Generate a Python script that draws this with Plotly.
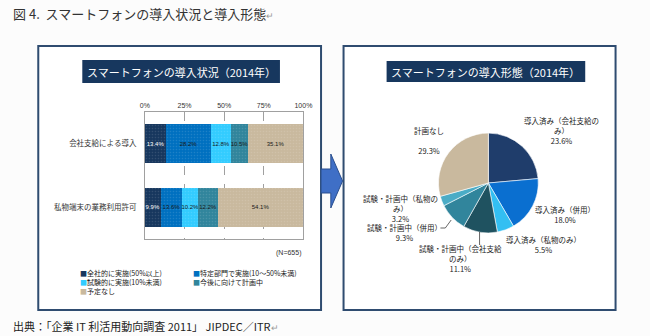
import plotly.graph_objects as go

W, H = 650, 336
FONT = "Noto Sans CJK JP"

# ---- data ----
bar_categories = ["会社支給による導入", "私物端末の業務利用許可"]
bar_series = ["全社的に実施(50%以上)", "特定部門で実施(10～50%未満)",
              "試験的に実施(10%未満)", "今後に向けて計画中", "予定なし"]
bar_all_company = [13.4, 28.2, 12.8, 10.5, 35.1]
bar_private_device = [9.9, 13.6, 10.2, 12.2, 54.1]
bar_colors = ["#17375E", "#0070C0", "#33CCFF", "#31859C", "#C9B99E"]
bar_text_colors = ["white", "#1a1a1a", "#1a1a1a", "#1a1a1a", "#1a1a1a"]
x_ticks = [0, 25, 50, 75, 100]

pie_labels = ["導入済み（会社支給のみ）", "導入済み（併用）", "導入済み（私物のみ）",
              "試験・計画中（会社支給のみ）", "試験・計画中（併用）",
              "試験・計画中（私物のみ）", "計画なし"]
pie_values = [23.6, 18.0, 5.5, 11.1, 9.3, 3.2, 29.3]
pie_colors = ["#1F3D6B", "#0A6FD0", "#33BFF2", "#1F5260", "#31859C", "#4BACC6", "#C9B99E"]


def px(x):
    return x / W


def py(y):
    return 1 - y / H


fig = go.Figure()

for i, name in enumerate(bar_series):
    fig.add_trace(go.Bar(
        y=bar_categories,
        x=[bar_all_company[i], bar_private_device[i]],
        name=name,
        orientation="h",
        marker=dict(color=bar_colors[i], line=dict(width=0),
                    pattern=dict(shape=".", fgcolor="rgba(255,255,255,0.25)", size=3, solidity=0.2)),
        texttemplate="%{x:.1f}%",
        textposition="inside",
        insidetextanchor="middle",
        textangle=0,
        constraintext="none",
        textfont=dict(size=6, color=bar_text_colors[i], family="Arial"),
        width=0.62,
        hoverinfo="skip",
        showlegend=False,
    ))

fig.add_trace(go.Pie(
    labels=pie_labels,
    values=pie_values,
    sort=False,
    direction="clockwise",
    rotation=0,
    marker=dict(colors=pie_colors, line=dict(color="white", width=0.6)),
    textinfo="none",
    hoverinfo="skip",
    showlegend=False,
    domain=dict(x=[px(443), px(545)], y=[py(234), py(132)]),
))

shapes = []
annotations = []


def note(text, x, y, size, color="#222", family=FONT, xanchor="center", align="center"):
    annotations.append(dict(text=text, xref="paper", yref="paper", x=px(x), y=py(y),
                            xanchor=xanchor, yanchor="middle", align=align,
                            showarrow=False, font=dict(family=family, size=size, color=color)))


# panel frames
for x0, x1 in [(34, 323), (346, 624)]:
    shapes.append(dict(type="rect", xref="paper", yref="paper",
                       x0=px(x0), x1=px(x1), y0=py(310), y1=py(46),
                       line=dict(color="#2F4C70", width=2), fillcolor="white", layer="below"))

# title banners
for (x0, x1, y0, y1, txt) in [(79, 281, 60, 83, "スマートフォンの導入状況（2014年）"),
                              (390, 593, 61, 82, "スマートフォンの導入形態（2014年）")]:
    shapes.append(dict(type="rect", xref="paper", yref="paper",
                       x0=px(x0), x1=px(x1), y0=py(y1), y1=py(y0),
                       line=dict(width=0), fillcolor="#17375E", layer="below"))
    note(txt, (x0 + x1) / 2, (y0 + y1) / 2, 11, color="white")

# arrow between panels
ax = [323, 333, 333, 345, 333, 333, 323]
ay = [169, 169, 154, 181, 208, 193, 193]
path = "M " + " L ".join(f"{px(a)},{py(b)}" for a, b in zip(ax, ay)) + " Z"
shapes.append(dict(type="path", xref="paper", yref="paper", path=path,
                   fillcolor="#3F6FC6", line=dict(color="#2A4F8F", width=1)))

# pie leader lines
for (x0, y0, x1, y1) in [(485, 232, 485, 245), (445, 228, 450, 228), (450, 228, 456, 220)]:
    shapes.append(dict(type="line", xref="paper", yref="paper",
                       x0=px(x0), y0=py(y0), x1=px(x1), y1=py(y1),
                       line=dict(color="#404040", width=0.8)))

# main title and footer
note("図 4.  スマートフォンの導入状況と導入形態<span style='font-size:9px;color:#999'>↵</span>",
     6, 14, 13, color="#333", xanchor="left")
note("出典：「企業 IT 利活用動向調査 2011」 JIPDEC／ITR<span style='font-size:9px;color:#999'>↵</span>",
     6, 326, 11, color="#222", xanchor="left")

# N
note("(N=655)", 305, 253, 7, color="#333", family="Arial", xanchor="right")

# manual legend (bar series), two columns
col1 = [0, 2, 4]
col2 = [1, 3]
for cols, lx, n in [(col1, 75, 3), (col2, 190, 2)]:
    txt = "<br>".join(f"<span style='color:{bar_colors[i]}'>■</span>{bar_series[i]}" for i in cols)
    note(txt, lx, 273 + (n - 1) * 4.5, 7, xanchor="left", align="left")

# pie labels
pie_label_pos = [
    (569, 130, "導入済み（会社支給の<br>み）<br>23.6%"),
    (572, 214, "導入済み（併用）<br>18.0%"),
    (550, 244, "導入済み（私物のみ）<br>5.5%"),
    (466, 258, "試験・計画中（会社支給<br>のみ）<br>11.1%"),
    (408, 232, "試験・計画中（併用）<br>9.3%"),
    (404, 208, "試験・計画中（私物の<br>み）<br>3.2%"),
    (433, 140, "計画なし<br><br>29.3%"),
]
for (lx, ly, txt) in pie_label_pos:
    note(txt, lx, ly, 7.5)

fig.update_layout(
    width=W, height=H,
    margin=dict(l=0, r=0, t=0, b=0),
    paper_bgcolor="#FCFCFC",
    plot_bgcolor="white",
    barmode="stack",
    bargap=0.38,
    shapes=shapes,
    annotations=annotations,
    xaxis=dict(domain=[px(143), px(305)], range=[0, 100], side="top",
               tickvals=x_ticks, ticktext=[f"{v}%" for v in x_ticks],
               tickfont=dict(family="Arial", size=7, color="#333"),
               showgrid=True, gridcolor="#A0A0A0", griddash="dash", gridwidth=1,
               showline=True, linecolor="#A0A0A0", mirror=True, ticks="",
               zeroline=False, fixedrange=True),
    yaxis=dict(domain=[py(239), py(112)], categoryorder="array",
               categoryarray=bar_categories, autorange="reversed",
               tickfont=dict(family=FONT, size=7.5, color="#333"),
               showline=True, linecolor="#A0A0A0", mirror=True, ticks="",
               ticklabelstandoff=6, fixedrange=True),
    showlegend=False,
)

fig.write_html("out.html")
